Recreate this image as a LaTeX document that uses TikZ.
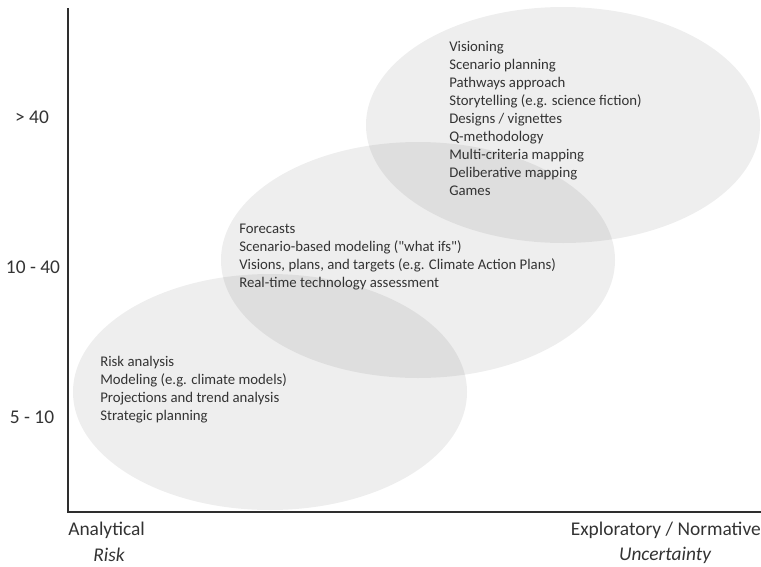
\documentclass[tikz,border=0pt]{standalone}
\usepackage{fontspec}
\setmainfont{Carlito}
\newfontfamily\straightq{Carlito}[Ligatures=TeXOff]
\definecolor{txtgray}{HTML}{333333}
\definecolor{axisgray}{HTML}{2E2E2E}

\begin{document}
\begin{tikzpicture}
  [x=0.025cm,y=-0.025cm,
   every node/.style={inner sep=0pt,text=txtgray},
   blob/.style={fill=black,fill opacity=.065},
   block/.style={anchor=north west,align=left,font=\fontsize{10.5}{12.8}\selectfont},
   axislab/.style={font=\fontsize{13.8}{16}\selectfont}]
  \useasboundingbox (0,0) rectangle (761,566);

  % overlapping fields, analytical to exploratory
  \foreach \cx/\cy in {270/392,418/260,563/125}
    \fill[blob] (\cx,\cy) ellipse [x radius=197,y radius=118];

  % axes
  \coordinate (ytop) at (68,8);
  \coordinate (origin) at (68,512);
  \coordinate (xend) at (761,512);
  \draw[axisgray,line width=1.9pt] (ytop) -- (origin) -- (xend);

  % time horizons
  \node[axislab] (h40)  at (32,117) {> 40};
  \node[axislab] (h1040) at (33,267) {10 - 40};
  \node[axislab] (h510) at (32,417) {5 - 10};

  \node[axislab,anchor=west] (ana) at (68,530) {Analytical};
  \node[axislab] (risk) at (109,555) {\itshape Risk};
  \node[axislab,anchor=east] (expl) at (761,530) {Exploratory / Normative};
  \node[axislab] (unc) at (665,555) {\itshape Uncertainty};

  % methods
  \node[block] (explore) at (449,41) {Visioning\\Scenario planning\\Pathways approach\\
    Storytelling (e.g. science fiction)\\Designs / vignettes\\Q-methodology\\
    Multi-criteria mapping\\Deliberative mapping\\Games};
  \node[block] (forecast) at (239,224) {Forecasts\\Scenario-based modeling ({\straightq"}what ifs{\straightq"})\\
    Visions, plans, and targets (e.g. Climate Action Plans)\\Real-time technology assessment};
  \node[block] (analyse) at (100,356) {Risk analysis\\Modeling (e.g. climate models)\\
    Projections and trend analysis\\Strategic planning};
\end{tikzpicture}
\end{document}
